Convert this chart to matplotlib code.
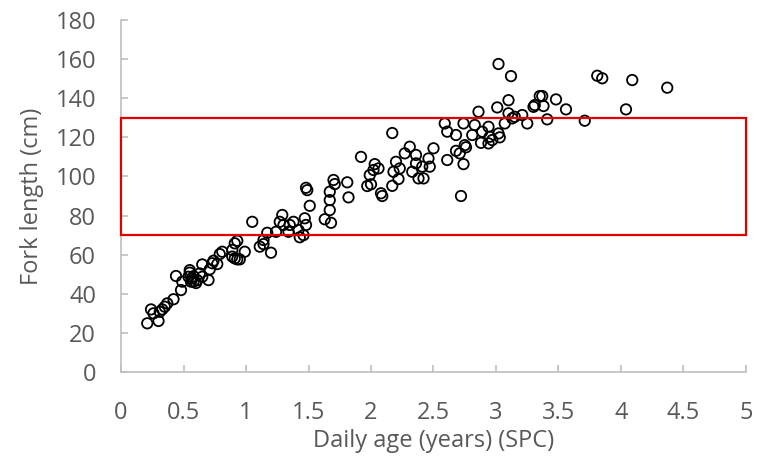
import matplotlib
matplotlib.use("Agg")
import matplotlib.pyplot as plt
from matplotlib.patches import Rectangle

age = [0.21,0.24,0.26,0.30,0.31,0.33,0.35,0.37,0.42,0.44,0.48,0.49,0.54,0.55,0.55,0.56,0.57,0.58,0.58,0.60,
       0.61,0.63,0.65,0.65,0.70,0.71,0.73,0.74,0.77,0.79,0.81,0.89,0.89,0.91,0.91,0.93,0.93,0.95,0.99,1.05,
       1.11,1.14,1.14,1.17,1.20,1.24,1.27,1.29,1.30,1.34,1.35,1.38,1.42,1.43,1.46,1.47,1.48,1.48,1.49,1.51,
       1.63,1.67,1.67,1.67,1.68,1.70,1.71,1.81,1.82,1.92,1.97,1.99,2.00,2.02,2.03,2.06,2.08,2.09,2.17,2.17,
       2.18,2.20,2.22,2.23,2.27,2.31,2.33,2.36,2.36,2.38,2.41,2.42,2.46,2.47,2.50,2.59,2.61,2.61,2.68,2.68,
       2.71,2.72,2.74,2.74,2.75,2.76,2.81,2.83,2.86,2.88,2.89,2.94,2.94,2.95,2.97,3.01,3.02,3.02,3.03,3.07,
       3.10,3.10,3.12,3.13,3.15,3.21,3.25,3.30,3.31,3.35,3.37,3.38,3.41,3.48,3.56,3.71,3.81,3.85,4.04,4.09,
       4.37]
fork_length = [24.9,32.0,30.0,26.1,30.8,32.0,33.4,35.1,37.2,49.1,41.9,46.2,48.7,52.1,50.8,46.2,47.9,46.2,49.0,45.5,
               47.0,50.4,48.7,55.0,47.0,52.5,55.6,56.9,55.2,60.3,61.5,59.0,62.4,65.8,58.1,67.1,57.6,57.6,61.5,76.8,
               64.1,65.4,67.5,71.2,61.0,71.7,76.8,80.3,75.2,71.7,75.2,76.8,72.6,68.9,70.0,78.6,75.2,94.2,93.0,85.0,
               78.1,82.8,87.9,92.2,76.3,98.2,96.1,97.0,89.3,110.0,95.1,100.7,96.0,103.3,106.3,104.1,91.4,90.0,122.2,95.2,
               102.4,107.5,98.7,104.1,111.8,115.2,102.4,111.0,106.7,99.0,105.0,99.0,109.2,105.0,114.4,127.1,122.9,108.4,121.2,113.1,
               111.8,90.0,127.1,106.3,116.0,114.9,121.2,126.3,133.1,117.2,122.9,125.4,116.9,120.3,118.6,135.3,157.5,122.0,120.0,127.1,
               139.0,132.3,151.3,129.7,130.5,131.4,127.1,135.6,136.5,141.1,141.1,136.0,129.2,139.4,134.3,128.5,151.5,150.2,134.3,149.3,
               145.4]

x_ticks = [0, 0.5, 1, 1.5, 2, 2.5, 3, 3.5, 4, 4.5, 5]
x_tick_labels = ["0", "0.5", "1", "1.5", "2", "2.5", "3", "3.5", "4", "4.5", "5"]
y_ticks = [0, 20, 40, 60, 80, 100, 120, 140, 160, 180]

box_x = (0, 5)
box_y = (70, 130)

plt.rcParams['font.family'] = ['Open Sans', 'DejaVu Sans']

fig = plt.figure(figsize=(7.63, 4.62), dpi=100)
ax = fig.add_axes([0.1586, 0.1948, 0.8191, 0.7619])

ax.scatter(age, fork_length, s=56, facecolors='none', edgecolors='black', linewidths=1.3, zorder=3)

ax.add_patch(Rectangle((box_x[0], box_y[0]), box_x[1] - box_x[0], box_y[1] - box_y[0],
                       fill=False, edgecolor='#e00000', linewidth=1.6, clip_on=False, zorder=4))

ax.set_xlim(0, 5)
ax.set_ylim(0, 180)
ax.set_xticks(x_ticks)
ax.set_xticklabels(x_tick_labels)
ax.set_yticks(y_ticks)

grey = '#595959'
for s in ['top', 'right']:
    ax.spines[s].set_visible(False)
for s in ['left', 'bottom']:
    ax.spines[s].set_color('#bfbfbf')
    ax.spines[s].set_linewidth(1.2)
ax.tick_params(direction='in', length=5, width=1.2, color='#bfbfbf', labelcolor=grey, labelsize=17)
ax.tick_params(axis='x', pad=21)
ax.tick_params(axis='y', pad=18)

ax.set_xlabel('Daily age (years) (SPC)', fontsize=17, color=grey, labelpad=3)
ax.set_ylabel('Fork length (cm)', fontsize=17, color=grey, labelpad=8)

fig.savefig('out.png', dpi=100)
